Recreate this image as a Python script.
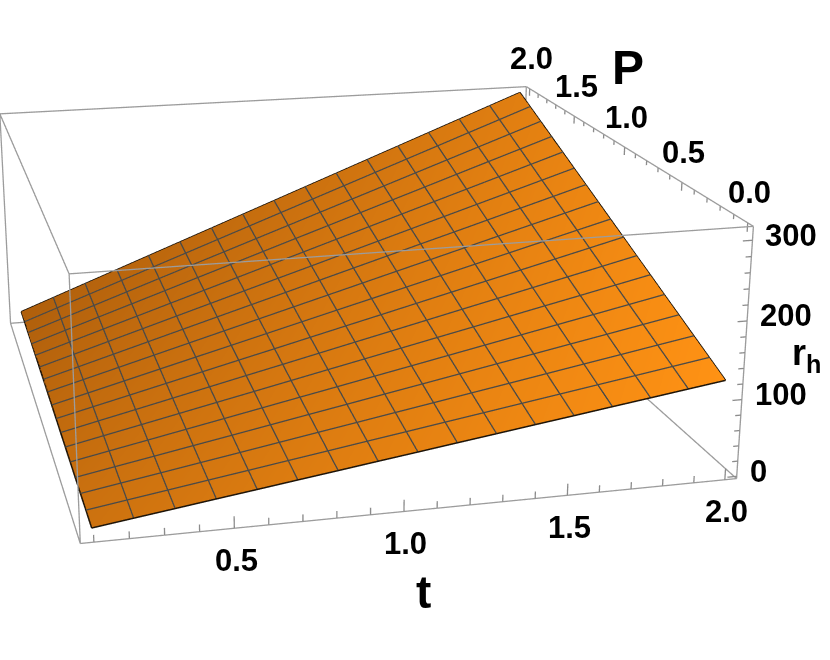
import numpy as np, plotly.graph_objects as go

# Data
t_values=[0.1,0.21875,0.3375,0.45625,0.575,0.69375,0.8125,0.93125,1.05,1.16875,1.2875,1.40625,1.525,1.64375,1.7625,1.88125,2.0]
p_values=[0,0.125,0.25,0.375,0.5,0.625,0.75,0.875,1.0,1.125,1.25,1.375,1.5,1.625,1.75,1.875,2.0]
r_h=[
[7.7,14.8,21.8,28.9,35.9,43.0,50.0,57.1,64.1,71.2,78.2,85.3,92.3,99.4,106.4,113.5,120.5],
[8.4,16.2,23.9,31.7,39.4,47.2,54.9,62.7,70.4,78.2,85.9,93.7,101.4,109.2,116.9,124.7,132.5],
[9.1,17.6,26.0,34.5,42.9,51.4,59.9,68.3,76.8,85.2,93.7,102.1,110.6,119.1,127.5,136.0,144.4],
[9.8,19.0,28.1,37.3,46.4,55.6,64.8,73.9,83.1,92.2,101.4,110.6,119.7,128.9,138.0,147.2,156.4],
[10.5,20.4,30.2,40.1,49.9,59.8,69.7,79.5,89.4,99.2,109.1,119.0,128.8,138.7,148.5,158.4,168.3],
[11.2,21.8,32.3,42.9,53.5,64.0,74.6,85.2,95.7,106.3,116.9,127.4,138.0,148.6,159.1,169.7,180.3],
[11.9,23.2,34.4,45.7,57.0,68.3,79.5,90.8,102.1,113.3,124.6,135.9,147.1,158.4,169.7,180.9,192.2],
[12.6,24.6,36.5,48.5,60.5,72.5,84.4,96.4,108.4,120.3,132.3,144.3,156.3,168.2,180.2,192.2,204.2],
[13.4,26.0,38.7,51.4,64.1,76.7,89.4,102.1,114.8,127.4,140.1,152.8,165.5,178.1,190.8,203.5,216.2],
[14.1,27.4,40.8,54.2,67.6,81.0,94.3,107.7,121.1,134.5,147.9,161.2,174.6,188.0,201.4,214.7,228.1],
[14.8,28.8,42.9,57.0,71.1,85.2,99.3,113.3,127.4,141.5,155.6,169.7,183.7,197.8,211.9,226.0,240.1],
[15.5,30.2,45.0,59.8,74.6,89.4,104.2,119.0,133.7,148.5,163.3,178.1,192.9,207.7,222.4,237.2,252.0],
[16.2,31.7,47.2,62.6,78.1,93.6,109.1,124.6,140.1,155.6,171.1,186.6,202.1,217.5,233.0,248.5,264.0],
[16.9,33.1,49.3,65.4,81.6,97.8,114.0,130.2,146.4,162.6,178.8,195.0,211.2,227.4,243.6,259.7,275.9],
[17.6,34.5,51.4,68.3,85.2,102.1,118.9,135.8,152.7,169.6,186.5,203.4,220.3,237.2,254.1,271.0,287.9],
[18.3,35.9,53.5,71.1,88.7,106.3,123.9,141.5,159.1,176.7,194.3,211.9,229.5,247.1,264.7,282.2,299.8],
[19.0,37.3,55.6,73.9,92.2,110.5,128.8,147.1,165.4,183.7,202.0,220.3,238.6,256.9,275.2,293.5,311.8],
]
t_major=[0.5,1.0,1.5,2.0]
t_minor=[0.1,0.2,0.3,0.4,0.6,0.7,0.8,0.9,1.1,1.2,1.3,1.4,1.6,1.7,1.8,1.9]
p_major=[0.0,0.5,1.0,1.5,2.0]
p_minor=[0.1,0.2,0.3,0.4,0.6,0.7,0.8,0.9,1.1,1.2,1.3,1.4,1.6,1.7,1.8,1.9]
z_major=[0,100,200,300]
z_minor=[20,40,60,80,120,140,160,180,220,240,260,280]

tr=(0.062,2.038); pr=(-0.04,2.04); zr=(-3.,317.)
GRAY='#9c9c9c'; TICK='#8c8c8c'; MESH='#4a4a48'
t=np.array(t_values);P=np.array(p_values);z=np.array(r_h)

def segs(lst):
    xs,ys,zs=[],[],[]
    for a,b in lst:
        xs+=[a[0],b[0],None];ys+=[a[1],b[1],None];zs+=[a[2],b[2],None]
    return xs,ys,zs
def line(lst,color,width):
    x,y,zz=segs(lst)
    return go.Scatter3d(x=x,y=y,z=zz,mode='lines',line=dict(color=color,width=width),hoverinfo='skip')

shade=0.38*(1-P/P.max())[:,None]+0.62*((t-t.min())/(t.max()-t.min()))[None,:]
fig=go.Figure(go.Surface(x=t,y=P,z=z,surfacecolor=shade,cmin=0,cmax=1,
    colorscale=[[0,'#AF5F0C'],[1,'#FF9214']],showscale=False,hoverinfo='skip',
    lighting=dict(ambient=1,diffuse=0,specular=0,fresnel=0)))
# mesh lines, lifted a hair above the surface so they are never buried in it
LIFT=0.8
mesh=[((t[j],P[i],z[i,j]+LIFT),(t[j],P[i+1],z[i+1,j]+LIFT)) for j in range(1,16) for i in range(16)]+\
     [((t[j],P[i],z[i,j]+LIFT),(t[j+1],P[i],z[i,j+1]+LIFT)) for i in range(1,16) for j in range(16)]
fig.add_trace(line(mesh,MESH,2.6))
# surface outline
border=[((t[i],P[0],z[0,i]),(t[i+1],P[0],z[0,i+1])) for i in range(16)]+\
       [((t[i],P[-1],z[-1,i]),(t[i+1],P[-1],z[-1,i+1])) for i in range(16)]+\
       [((t[0],P[i],z[i,0]),(t[0],P[i+1],z[i+1,0])) for i in range(16)]+\
       [((t[-1],P[i],z[i,-1]),(t[-1],P[i+1],z[i+1,-1])) for i in range(16)]
fig.add_trace(line(border,'#1a1208',3))
# bounding box
c=lambda a,b,d:(tr[a],pr[b],zr[d])
edges=[(c(0,0,0),c(1,0,0)),(c(0,1,0),c(1,1,0)),(c(0,0,1),c(1,0,1)),(c(0,1,1),c(1,1,1)),
       (c(0,0,0),c(0,1,0)),(c(1,0,0),c(1,1,0)),(c(0,0,1),c(0,1,1)),(c(1,0,1),c(1,1,1)),
       (c(0,0,0),c(0,0,1)),(c(1,0,0),c(1,0,1)),(c(0,1,0),c(0,1,1)),(c(1,1,0),c(1,1,1))]
fig.add_trace(line(edges,GRAY,2.6))
# ticks
ticks=[((v,pr[0],zr[0]),(v,pr[0],zr[0]+15)) for v in t_major]+[((v,pr[0],zr[0]),(v,pr[0],zr[0]+9)) for v in t_minor]
ticks+=[((tr[1],v,zr[1]),(tr[1],v,zr[1]-11)) for v in p_major]+[((tr[1],v,zr[1]),(tr[1],v,zr[1]-6)) for v in p_minor]
ticks+=[((tr[1],pr[0],v),(tr[1]-0.03,pr[0],v)) for v in z_major]+[((tr[1],pr[0],v),(tr[1]-0.018,pr[0],v)) for v in z_minor]
fig.add_trace(line(ticks,TICK,2.6))

FONT='Liberation Sans'
def lab(x,y,zz,text,size,dx,dy,anchor='center'):
    return dict(x=x,y=y,z=zz,text=f'<b>{text}</b>',showarrow=False,xshift=dx,yshift=-dy,xanchor=anchor,yanchor='middle',
                font=dict(family=FONT,size=size,color='black'))
ann=[lab(v,pr[0],zr[0],f'{v:.1f}',31,2,32) for v in t_major]
ann+=[lab(tr[1],v,zr[1],f'{v:.1f}',31,2,-30) for v in p_major]
ann+=[lab(tr[1],pr[0],v,str(v),31,11,-5,'left') for v in z_major]
ann+=[lab(1.0,pr[0],zr[0],'t',46,20,81),lab(tr[1],1.5,zr[1],'P',48,54,-49),
      lab(tr[1],pr[0],200,'r<sub>h</sub>',36,43,34,'left')]

# the axis ranges sit just outside the drawn box so its edges are not clipped; aspect scales with them
PAD=0.02
def widen(r): return [r[0]-PAD/2*(r[1]-r[0]),r[1]+PAD/2*(r[1]-r[0])]
ax=dict(showgrid=False,showline=False,showticklabels=False,zeroline=False,showbackground=False,showspikes=False,title='')
W,H=1200,1722
fig.update_layout(width=W,height=H,margin=dict(l=0,r=0,t=0,b=0),showlegend=False,paper_bgcolor='white',
 scene=dict(domain=dict(x=[0,1],y=[0,1]),xaxis=dict(ax,range=widen(tr)),yaxis=dict(ax,range=widen(pr)),zaxis=dict(ax,range=widen(zr)),
 aspectmode='manual',aspectratio=dict(x=1*(1+PAD),y=1.02*(1+PAD),z=.398*(1+PAD)),annotations=ann,
 camera=dict(projection=dict(type='perspective'),eye=dict(x=-0.798,y=-3.206,z=1.018),center=dict(x=-0.011,y=0.003,z=-0.083),up=dict(x=-0.001,y=-0.019,z=1))))
left=330.173-W/2;top=328.129-H/2
fig.write_html('out.html',post_script=f"document.documentElement.style.overflow='hidden';document.body.style.margin='0';document.body.style.overflow='hidden';var d=document.getElementById('{{plot_id}}');d.style.position='absolute';d.style.left='{left}px';d.style.top='{top}px';")
